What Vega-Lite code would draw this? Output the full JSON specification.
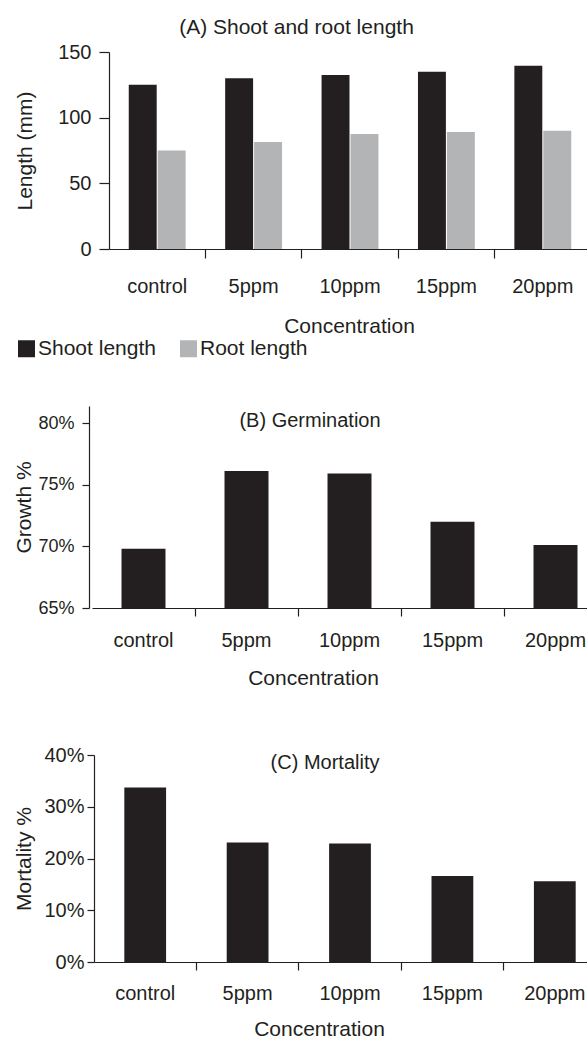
{
  "$schema": "https://vega.github.io/schema/vega-lite/v6.json",
  "padding": {"left": 13, "top": 17, "right": 0, "bottom": 0},
  "background": "white",
  "spacing": 70,
  "config": {
    "font": "Liberation Sans",
    "view": {"stroke": null},
    "axis": {
      "grid": false,
      "domainColor": "#231f20",
      "tickColor": "#231f20",
      "labelColor": "#231f20",
      "titleColor": "#231f20",
      "labelFont": "Liberation Sans",
      "titleFont": "Liberation Sans",
      "labelFontSize": 20,
      "titleFontSize": 21,
      "titleFontWeight": "normal",
      "domainWidth": 1.2,
      "tickWidth": 1.2
    },
    "title": {"font": "Liberation Sans", "fontSize": 20, "fontWeight": "normal", "color": "#231f20", "baseline": "alphabetic"},
    "legend": {"labelFont": "Liberation Sans", "labelColor": "#231f20"}
  },
  "vconcat": [
    {
      "width": 502,
      "height": 197,
      "title": {"text": "(A) Shoot and root length", "fontSize": 21, "dx": -43.5, "offset": 4},
      "data": {"values": [
        {"concentration": "control", "measure": "Shoot length", "length": 125},
        {"concentration": "control", "measure": "Root length", "length": 75},
        {"concentration": "5ppm", "measure": "Shoot length", "length": 130},
        {"concentration": "5ppm", "measure": "Root length", "length": 81.5},
        {"concentration": "10ppm", "measure": "Shoot length", "length": 132.5},
        {"concentration": "10ppm", "measure": "Root length", "length": 87.5},
        {"concentration": "15ppm", "measure": "Shoot length", "length": 135},
        {"concentration": "15ppm", "measure": "Root length", "length": 89},
        {"concentration": "20ppm", "measure": "Shoot length", "length": 139.5},
        {"concentration": "20ppm", "measure": "Root length", "length": 90}
      ]},
      "mark": {"type": "bar"},
      "encoding": {
        "x": {
          "field": "concentration", "type": "nominal",
          "sort": ["control", "5ppm", "10ppm", "15ppm", "20ppm"],
          "scale": {"range": [20, 502], "paddingInner": 0.41, "paddingOuter": 0.205},
          "axis": {"labelAngle": 0, "ticks": true, "bandPosition": 1.3475, "tickSize": 9, "labelPadding": 18, "title": "Concentration", "titlePadding": 19, "titleX": 260}
        },
        "xOffset": {
          "field": "measure", "type": "nominal",
          "sort": ["Shoot length", "Root length"],
          "scale": {"paddingInner": 0.035, "paddingOuter": 0}
        },
        "y": {
          "field": "length", "type": "quantitative",
          "scale": {"domain": [0, 150], "nice": false},
          "axis": {"offset": -20, "values": [0, 50, 100, 150], "tickSize": 10, "labelPadding": 8, "title": "Length (mm)", "titlePadding": 22}
        },
        "color": {
          "field": "measure", "type": "nominal",
          "scale": {"domain": ["Shoot length", "Root length"], "range": ["#231f20", "#b3b4b6"]},
          "legend": {
            "orient": "none", "legendX": -73, "legendY": 286, "direction": "horizontal",
            "title": null, "symbolType": "square", "symbolSize": 289, "symbolStrokeWidth": 0,
            "labelFontSize": 21, "columnPadding": 22, "labelOffset": 1, "padding": 0
          }
        }
      }
    },
    {
      "spacing": 56,
      "vconcat": [
        {
          "width": 518,
          "height": 202,
          "title": {"text": "(B) Germination", "dx": -38, "offset": 0, "dy": 25},
          "data": {"values": [
            {"concentration": "control", "growth": 0.698},
            {"concentration": "5ppm", "growth": 0.761},
            {"concentration": "10ppm", "growth": 0.759},
            {"concentration": "15ppm", "growth": 0.72},
            {"concentration": "20ppm", "growth": 0.701}
          ]},
          "mark": {"type": "bar", "color": "#231f20", "clip": true},
          "encoding": {
            "x": {
              "field": "concentration", "type": "nominal",
              "sort": ["control", "5ppm", "10ppm", "15ppm", "20ppm"],
              "scale": {"range": [3, 518], "paddingInner": 0.573, "paddingOuter": 0.2865},
              "axis": {"labelAngle": 0, "ticks": true, "bandPosition": 1.671, "tickSize": 8, "labelPadding": 14.5, "title": "Concentration", "titlePadding": 17, "titleX": 224}
            },
            "y": {
              "field": "growth", "type": "quantitative",
              "scale": {"domain": [0.65, 0.8138], "nice": false, "zero": false},
              "axis": {"values": [0.65, 0.7, 0.75, 0.8], "format": ".0%", "labelFontSize": 18, "tickSize": 7, "labelPadding": 8, "title": "Growth %", "titlePadding": 3}
            }
          }
        },
        {
          "width": 517,
          "height": 207,
          "title": {"text": "(C) Mortality", "dx": -22.5, "offset": 0, "dy": 28},
          "data": {"values": [
            {"concentration": "control", "mortality": 0.337},
            {"concentration": "5ppm", "mortality": 0.231},
            {"concentration": "10ppm", "mortality": 0.229},
            {"concentration": "15ppm", "mortality": 0.166},
            {"concentration": "20ppm", "mortality": 0.156}
          ]},
          "mark": {"type": "bar", "color": "#231f20"},
          "encoding": {
            "x": {
              "field": "concentration", "type": "nominal",
              "sort": ["control", "5ppm", "10ppm", "15ppm", "20ppm"],
              "scale": {"range": [5, 517], "paddingInner": 0.592, "paddingOuter": 0.296},
              "axis": {"labelAngle": 0, "ticks": true, "bandPosition": 1.7255, "tickSize": 8, "labelPadding": 13.5, "title": "Concentration", "titlePadding": 15, "titleX": 230}
            },
            "y": {
              "field": "mortality", "type": "quantitative",
              "scale": {"domain": [0, 0.4], "nice": false},
              "axis": {"offset": -5, "values": [0, 0.1, 0.2, 0.3, 0.4], "format": ".0%", "tickSize": 7, "labelPadding": 3, "title": "Mortality %", "titlePadding": 9}
            }
          }
        }
      ]
    }
  ]
}
